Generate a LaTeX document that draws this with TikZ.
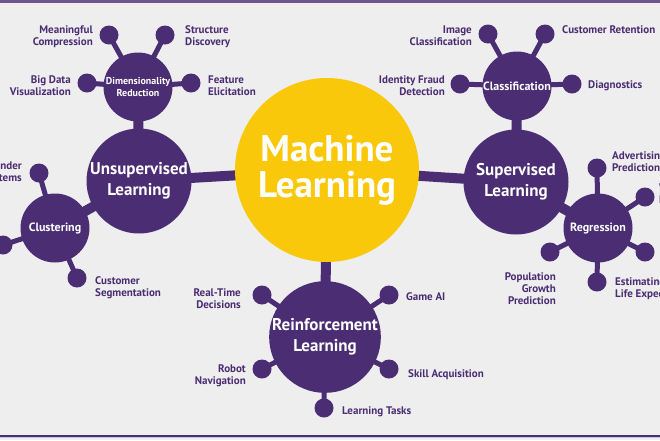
\documentclass[tikz,border=0pt]{standalone}
\usepackage{fontspec}
\setmainfont{PT Sans}
\usepackage{tikz}
\usetikzlibrary{backgrounds}
\definecolor{mlpurple}{HTML}{4B2D73}
\definecolor{mlyellow}{HTML}{FAC80A}
\definecolor{mlbg}{HTML}{EEEEEE}
\definecolor{mlbar}{HTML}{6E558C}
\definecolor{mlline}{HTML}{C9C2DC}

\begin{document}
\begin{tikzpicture}[
    x=1pt, y=-1pt,
    hub/.style={circle, fill=mlyellow, minimum size=184pt, inner sep=0pt, text=white, align=center, font=\bfseries\fontsize{37}{36}\selectfont},
    branch/.style={circle, fill=mlpurple, minimum size=105pt, inner sep=0pt, text=white, align=center, font=\bfseries\fontsize{17}{21}\selectfont},
    subbranch/.style={circle, fill=mlpurple, minimum size=69pt, inner sep=0pt, text=white, align=center, font=\bfseries\fontsize{12}{12}\selectfont},
    leaf/.style={circle, fill=mlpurple, minimum size=19pt, inner sep=0pt},
    leaflabel/.style={text=mlpurple, inner sep=0pt, font=\bfseries\fontsize{11}{12}\selectfont},
    thicklink/.style={draw=mlpurple, line width=10pt},
    thinlink/.style={draw=mlpurple, line width=5pt}
]

    % --- FONDO ---
    \useasboundingbox (0,0) rectangle (660,440);
    \clip (0,0) rectangle (660,440);

    % --- CENTRO ---
    \node[hub] (ML) at (327,170) {Machine\\Learning};

    % --- RAMI ---
    \node[branch] (Unsup) at (139,181) {Unsupervised\\Learning};
    \node[branch] (Sup) at (516,182) {Supervised\\Learning};
    \node[branch] (Reinf) at (325,337) {Reinforcement\\Learning};

    \node[subbranch] (DimRed) at (138,87) {\fontsize{10}{11}\selectfont Dimensionality\\\fontsize{10}{11}\selectfont Reduction};
    \node[subbranch] (Clust) at (55,228) {Clustering};
    \node[subbranch] (Classif) at (517,86) {Classification};
    \node[subbranch] (Regr) at (598,228) {Regression};

    % --- FOGLIE ---
    \node[leaf] (MC) at (109,35) {};
    \node[leaf] (SD) at (165,35) {};
    \node[leaf] (BD) at (87,83) {};
    \node[leaf] (FE) at (191,83) {};

    \node[leaf] (IC) at (488,34) {};
    \node[leaf] (CR) at (545,34) {};
    \node[leaf] (IF) at (460,84) {};
    \node[leaf] (DG) at (572,84) {};

    \node[leaf] (RS) at (39,173) {};
    \node[leaf] (TM) at (3,245) {};
    \node[leaf] (CS) at (77,278) {};

    \node[leaf] (AP) at (597,168) {};
    \node[leaf] (WF) at (645,197) {};
    \node[leaf] (MF) at (645,252) {};
    \node[leaf] (LE) at (597,282) {};
    \node[leaf] (PG) at (550,252) {};

    \node[leaf] (RT) at (262,295) {};
    \node[leaf] (GA) at (389,295) {};
    \node[leaf] (RN) at (262,369) {};
    \node[leaf] (SA) at (389,369) {};
    \node[leaf] (LT) at (324,408) {};

    % --- COLLEGAMENTI ---
    \begin{scope}[on background layer]
        \fill[mlbg] (0,0) rectangle (660,440);
        \fill[mlbar] (0,0) rectangle (660,2.5);
        \fill[mlpurple] (0,434.5) rectangle (660,436.5);
        \fill[mlline] (0,436.5) rectangle (660,438);
        \draw[thicklink] (ML.center) -- (Unsup.center);
        \draw[thicklink] (ML.center) -- (Sup.center);
        \draw[thicklink] (ML.center) -- (Reinf.center);
        \draw[thicklink] (Unsup.center) -- (DimRed.center);
        \draw[thicklink] (Unsup.center) -- (Clust.center);
        \draw[thicklink] (Sup.center) -- (Classif.center);
        \draw[thicklink] (Sup.center) -- (Regr.center);
        \foreach \a/\b in {DimRed/MC, DimRed/SD, DimRed/BD, DimRed/FE,
                           Classif/IC, Classif/CR, Classif/IF, Classif/DG,
                           Clust/RS, Clust/TM, Clust/CS,
                           Regr/AP, Regr/WF, Regr/MF, Regr/LE, Regr/PG,
                           Reinf/RT, Reinf/GA, Reinf/RN, Reinf/SA, Reinf/LT} {
            \draw[thinlink] (\a.center) -- (\b.center);
        }
    \end{scope}

    % --- ETICHETTE ---
    \node[leaflabel, anchor=east, align=right] (MCl) at (93,37) {Meaningful\\Compression};
    \node[leaflabel, anchor=west, align=left] (SDl) at (185,37) {Structure\\Discovery};
    \node[leaflabel, anchor=east, align=right] (BDl) at (71,86) {Big Data\\Visualization};
    \node[leaflabel, anchor=west, align=left] (FEl) at (208,86) {Feature\\Elicitation};

    \node[leaflabel, anchor=east, align=right] (ICl) at (472,36) {Image\\Classification};
    \node[leaflabel, anchor=west] (CRl) at (562,30) {Customer Retention};
    \node[leaflabel, anchor=east, align=right] (IFl) at (445,86) {Identity Fraud\\Detection};
    \node[leaflabel, anchor=west] (DGl) at (588,86) {Diagnostics};

    \node[leaflabel, anchor=east, align=right] (RSl) at (22,173) {Recommender\\Systems};
    \node[leaflabel, anchor=west, align=left] (CSl) at (95,288) {Customer\\Segmentation};

    \node[leaflabel, anchor=west, align=left] (APl) at (612,162) {Advertising\\Prediction};
    \node[leaflabel, anchor=west, align=left] (WFl) at (659,195) {Weather\\Forecasting};
    \node[leaflabel, anchor=west, align=left] (LEl) at (615,289) {Estimating\\Life Expectancy};
    \node[leaflabel, anchor=east, align=right] (PGl) at (556,289) {Population\\Growth\\Prediction};

    \node[leaflabel, anchor=east, align=right] (RTl) at (241,299) {Real-Time\\Decisions};
    \node[leaflabel, anchor=west] (GAl) at (406,297) {Game AI};
    \node[leaflabel, anchor=east, align=right] (RNl) at (246,376) {Robot\\Navigation};
    \node[leaflabel, anchor=west] (SAl) at (408,375) {Skill Acquisition};
    \node[leaflabel, anchor=west] (LTl) at (342,412) {Learning Tasks};

\end{tikzpicture}
\end{document}
